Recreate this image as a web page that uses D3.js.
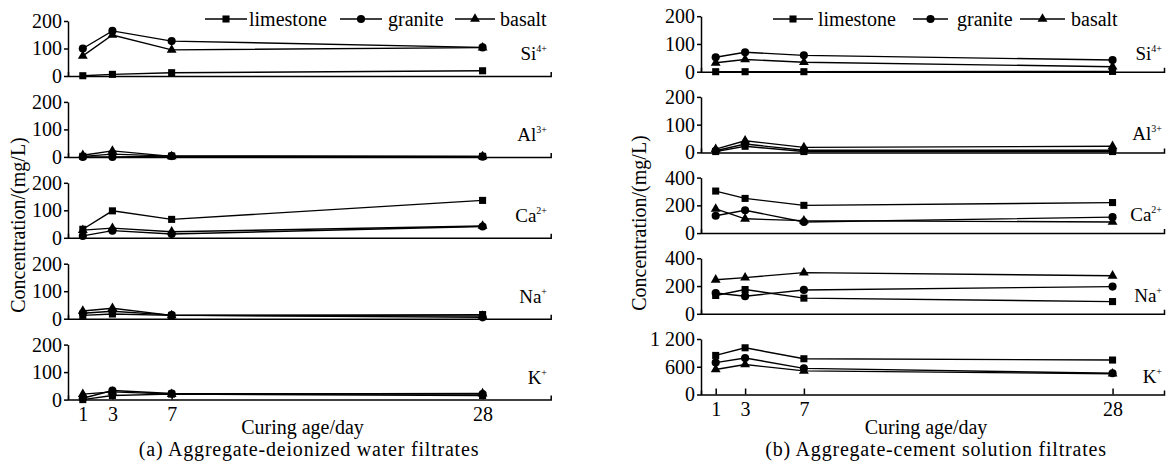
<!DOCTYPE html>
<html>
<head>
<meta charset="utf-8">
<script src="https://cdn.jsdelivr.net/npm/d3@7"></script>
<style>
  body { margin: 0; background: #fff; }
  svg { display: block; font-family: "Liberation Serif", "Times New Roman", serif; }
</style>
</head>
<body>
<div id="chart"></div>
<script>
// Curing ages and series
const days = [1, 3, 7, 28];
const minerals = ["limestone", "granite", "basalt"];
const ions = ["Si", "Al", "Ca", "Na", "K"];
const charges = ["4+", "3+", "2+", "+", "+"];

// (a) aggregate-deionized water filtrates; rows = limestone, granite, basalt (mg/L)
const waterSi = [[1, 6, 12, 19], [100, 164, 127, 104], [73, 149, 95, 103]];
const waterAl = [[2, 10, 3, 2], [0, 0, 3, 1], [6, 22, 2, 2]];
const waterCa = [[31, 98, 67, 136], [7, 26, 14, 41], [28, 35, 22, 43]];
const waterNa = [[12, 17, 12, 15], [20, 27, 13, 5], [28, 38, 12, 10]];
const waterK = [[0, 15, 20, 15], [5, 33, 22, 20], [20, 28, 20, 22]];

// (b) aggregate-cement solution filtrates
const cementSi = [[0, 0, 0, 1], [52, 70, 59, 42], [32, 44, 34, 18]];
const cementAl = [[3, 22, 3, 3], [6, 30, 8, 8], [12, 42, 18, 22]];
const cementCa = [[303, 250, 200, 220], [125, 165, 80, 115], [175, 103, 90, 80]];
const cementNa = [[132, 175, 113, 88], [150, 127, 172, 196], [245, 261, 297, 274]];
const cementK = [[845, 1010, 773, 745], [690, 790, 565, 460], [540, 648, 510, 449]];

// Axis ticks
const waterTicks = [0, 100, 200];
const cementTicks = [[0, 100, 200], [0, 100, 200], [0, 200, 400], [0, 200, 400], [0, 600, 1200]];
const cementKLabels = ["0", "600", "1 200"];

const width = 1176, height = 472;
const shapes = [d3.symbolSquare, d3.symbolCircle, d3.symbolTriangle];
const shapeSizes = [50, 52, 42];

const svg = d3.select("#chart").append("svg")
  .attr("width", width)
  .attr("height", height);
svg.append("rect").attr("width", width).attr("height", height).attr("fill", "#fff");

function drawSet(cfg) {
  const x = d3.scaleLinear().domain([0, cfg.xMax]).range([cfg.x0, cfg.x1]);

  cfg.data.forEach((rows, p) => {
    const bottom = cfg.bottom0 + p * cfg.step;
    const ticks = cfg.ticks[p];
    const y = d3.scaleLinear().domain([0, ticks[ticks.length - 1]]).range([bottom, bottom - cfg.h]);
    const g = svg.append("g");

    // y axis
    const yAxis = g.append("g")
      .attr("transform", `translate(${cfg.x0},0)`)
      .call(d3.axisLeft(y).tickValues(ticks)
        .tickFormat((d, i) => cfg.labels[p] ? cfg.labels[p][i] : d)
        .tickSize(4).tickSizeOuter(0).tickPadding(2));

    // x axis, tick labels on the bottom panel only
    const xAxis = g.append("g")
      .attr("transform", `translate(0,${bottom})`)
      .call(d3.axisBottom(x).tickValues(p === 4 ? days : [])
        .tickSizeInner(-6).tickSizeOuter(-4).tickPadding(7));

    [yAxis, xAxis].forEach(a => {
      a.selectAll("path, line").attr("stroke", "#000").attr("stroke-width", 1.5);
      a.selectAll("text").attr("fill", "#000").attr("font-size", 20)
        .attr("font-family", "Liberation Serif, serif");
    });

    const line = d3.line().x((d, i) => x(days[i])).y(d => y(d));
    rows.forEach((vals, s) => {
      g.append("path").datum(vals)
        .attr("d", line)
        .attr("fill", "none")
        .attr("stroke", "#000")
        .attr("stroke-width", 1.4);
    });
    rows.forEach((vals, s) => {
      g.selectAll(null).data(vals).enter().append("path")
        .attr("d", d3.symbol(shapes[s], shapeSizes[s]))
        .attr("transform", (d, i) => `translate(${x(days[i])},${y(d)})`)
        .attr("fill", "#000");
    });

    // ion label with superscript charge
    const t = g.append("text")
      .attr("x", cfg.ionX)
      .attr("y", bottom - cfg.ionOff)
      .attr("text-anchor", "end")
      .attr("font-size", 19);
    t.append("tspan").text(ions[p]);
    t.append("tspan").attr("dy", -8).attr("font-size", 10).text(charges[p]);
  });

  // legend
  const ly = 19;
  minerals.forEach((m, s) => {
    const [a, b, tx] = cfg.legend[s];
    svg.append("line").attr("x1", a).attr("x2", b).attr("y1", ly).attr("y2", ly)
      .attr("stroke", "#000").attr("stroke-width", 1.5);
    svg.append("path")
      .attr("d", d3.symbol(shapes[s], shapeSizes[s]))
      .attr("transform", `translate(${(a + b) / 2},${ly})`);
    svg.append("text").attr("x", tx).attr("y", ly + 6.5)
      .attr("font-size", 20).text(m);
  });

  // axis titles and caption
  svg.append("text")
    .attr("transform", `translate(${cfg.titleX},${cfg.titleY}) rotate(-90)`)
    .attr("text-anchor", "middle")
    .attr("font-size", 20)
    .text("Concentration/(mg/L)");
  svg.append("text")
    .attr("x", cfg.xTitleX).attr("y", 434)
    .attr("text-anchor", "middle")
    .attr("font-size", 20)
    .text("Curing age/day");
  svg.append("text")
    .attr("x", cfg.captionX).attr("y", 456)
    .attr("text-anchor", "middle")
    .attr("font-size", 20)
    .attr("letter-spacing", 0.8)
    .text(cfg.caption);
}

drawSet({
  data: [waterSi, waterAl, waterCa, waterNa, waterK],
  ticks: [waterTicks, waterTicks, waterTicks, waterTicks, waterTicks],
  labels: [null, null, null, null, null],
  x0: 68, x1: 550.7, xMax: 32.6,
  bottom0: 76, step: 80.9, h: 55,
  ionX: 547, ionOff: 16,
  legend: [[205, 247, 249], [340, 382, 388], [455, 495, 500]],
  titleX: 25, titleY: 225,
  xTitleX: 302.5, captionX: 309,
  caption: "(a) Aggregate-deionized water filtrates"
});

drawSet({
  data: [cementSi, cementAl, cementCa, cementNa, cementK],
  ticks: cementTicks,
  labels: [null, null, null, null, cementKLabels],
  x0: 701, x1: 1164, xMax: 31.5,
  bottom0: 71.7, step: 80.7, h: 55.5,
  ionX: 1162, ionOff: 12,
  legend: [[773, 813, 818], [913, 948, 957], [1020, 1065, 1071]],
  titleX: 646, titleY: 223,
  xTitleX: 926, captionX: 936,
  caption: "(b) Aggregate-cement solution filtrates"
});
</script>
</body>
</html>
